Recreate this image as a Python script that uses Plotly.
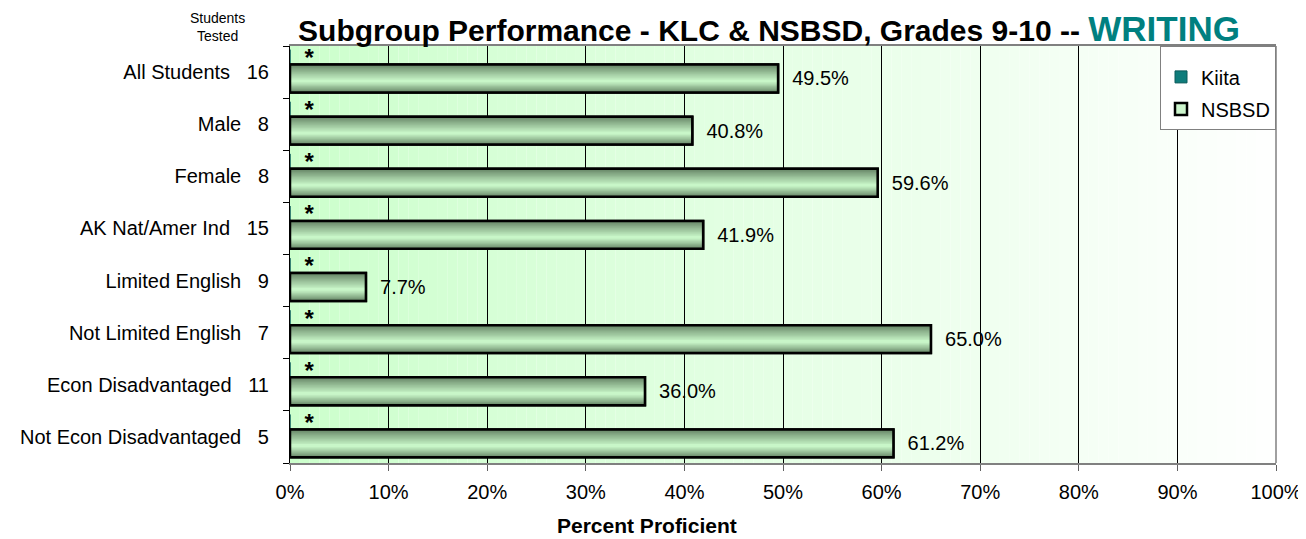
import plotly.graph_objects as go

# ---- data ----
categories = ["All Students", "Male", "Female", "AK Nat/Amer Ind",
              "Limited English", "Not Limited English",
              "Econ Disadvantaged", "Not Econ Disadvantaged"]
students_tested = [16, 8, 8, 15, 9, 7, 11, 5]
nsbsd_pct = [49.5, 40.8, 59.6, 41.9, 7.7, 65.0, 36.0, 61.2]
kiita_pct = [0, 0, 0, 0, 0, 0, 0, 0]
kiita_marks = ["*", "*", "*", "*", "*", "*", "*", "*"]
x_ticks = [0, 10, 20, 30, 40, 50, 60, 70, 80, 90, 100]
x_tick_text = [f"{v}%" for v in x_ticks]

FONT = "Liberation Sans, Arial, sans-serif"
tick_text = [f"{c}\u00a0\u00a0\u00a0{n}" for c, n in zip(categories, students_tested)]

BAR_OFF = -0.145
BAR_W = 0.535

fig = go.Figure()

# Kiita (suppressed values shown as *)
fig.add_trace(go.Bar(
    name="Kiita", x=kiita_pct, y=categories, orientation="h",
    offset=-0.43, width=0.3,
    marker=dict(color="#0e7c7b", line=dict(width=1, color="#0a5a5a")),
    text=kiita_marks, textposition="outside", constraintext="none",
    texttemplate="\u00a0\u2009<b>%{text}</b>",
    textfont=dict(size=24, color="black", family=FONT),
    cliponaxis=False, legendgroup="k", hoverinfo="skip",
))

# NSBSD base (legend entry)
fig.add_trace(go.Bar(
    name="NSBSD", x=nsbsd_pct, y=categories, orientation="h",
    offset=BAR_OFF, width=BAR_W,
    marker=dict(color="#ccf5cc", line=dict(width=2.5, color="black")),
    legendgroup="n", hoverinfo="skip",
))

# gradient layers (style only)
dark = (92, 122, 92)
light = (200, 246, 200)
N = 14
p = 0.6
for k in range(N):
    t = k / N
    top = p * t
    bot = 1 - (1 - p) * t
    tc = min(1.0, ((k + 1) / N) ** 0.9)
    col = tuple(int(round(d + (l - d) * tc)) for d, l in zip(dark, light))
    fig.add_trace(go.Bar(
        x=nsbsd_pct, y=categories, orientation="h",
        offset=BAR_OFF + BAR_W * top, width=BAR_W * (bot - top),
        marker=dict(color="rgb(%d,%d,%d)" % col, line=dict(width=0)),
        showlegend=False, hoverinfo="skip", legendgroup="n",
    ))

# outline + labels
fig.add_trace(go.Bar(
    x=nsbsd_pct, y=categories, orientation="h",
    offset=BAR_OFF, width=BAR_W,
    marker=dict(color="rgba(0,0,0,0)", line=dict(width=2.5, color="black")),
    texttemplate="\u00a0\u00a0%{x:.1f}%", textposition="outside",
    constraintext="none",
    textfont=dict(size=20, color="black", family=FONT),
    cliponaxis=False, showlegend=False, hoverinfo="skip", legendgroup="n",
))

# background horizontal gradient
shapes = []
S = 100
for i in range(S):
    f = i / S
    g = int(round(204 + (255 - 204) * f))
    shapes.append(dict(type="rect", xref="x", yref="paper",
                       x0=i, x1=i + 1, y0=0, y1=1,
                       fillcolor="rgb(%d,255,%d)" % (g, g),
                       line=dict(width=0), layer="below"))
# grey right border
shapes.append(dict(type="line", xref="paper", yref="paper", x0=1, x1=1, y0=0, y1=1,
                   line=dict(color="#808080", width=1.5), layer="above"))

fig.update_layout(
    width=1306, height=539,
    barmode="overlay",
    margin=dict(l=279, r=37, t=38, b=84),
    paper_bgcolor="white", plot_bgcolor="white",
    font=dict(family=FONT, size=20, color="black"),
    shapes=shapes,
    title=dict(
        text="<b>Subgroup Performance - KLC & NSBSD, Grades 9-10 -- </b>"
             "<b><span style='color:#008080;font-size:35px'>WRITING</span></b>",
        font=dict(size=30, family=FONT, color="black"),
        x=761 / 1306, xanchor="center", xref="container",
        y=1 - 22 / 539, yanchor="middle", yref="container",
    ),
    legend=dict(
        x=1.0, xanchor="right", y=1.0, yanchor="top",
        bgcolor="white", bordercolor="#808080", borderwidth=1,
        font=dict(size=20, family=FONT, color="black"),
        title=dict(text="\u00a0", font=dict(size=8)),
        traceorder="grouped", tracegroupgap=3, itemwidth=30,
    ),
    annotations=[
        dict(text="Students<br>Tested", xref="paper", yref="paper",
             x=-73 / 990, y=1.0, xanchor="center", yanchor="bottom",
             showarrow=False, font=dict(size=14, family=FONT, color="black")),
        dict(text="<b>Percent Proficient</b>", xref="paper", yref="paper",
             x=(637 - 279) / 990, y=0, xanchor="center", yanchor="middle",
             yshift=-62, showarrow=False,
             font=dict(size=21, family=FONT, color="black")),
    ],
)

fig.update_xaxes(
    range=[0, 100], tickmode="array", tickvals=x_ticks, ticktext=x_tick_text,
    showgrid=True, gridcolor="black", gridwidth=1,
    showline=True, linecolor="#808080", linewidth=1.5, mirror=True,
    ticks="outside", ticklen=6, tickcolor="#606060",
    zeroline=False, tickfont=dict(size=20, family=FONT),
    ticklabelstandoff=4,
)
fig.update_yaxes(
    type="category", autorange="reversed",
    tickvals=categories, ticktext=tick_text,
    showgrid=False, showline=True, linecolor="black", linewidth=1,
    ticks="outside", tickson="boundaries", ticklen=6, tickcolor="black",
    tickfont=dict(size=20, family=FONT), ticklabelstandoff=16,
)

fig.write_html("out.html")
